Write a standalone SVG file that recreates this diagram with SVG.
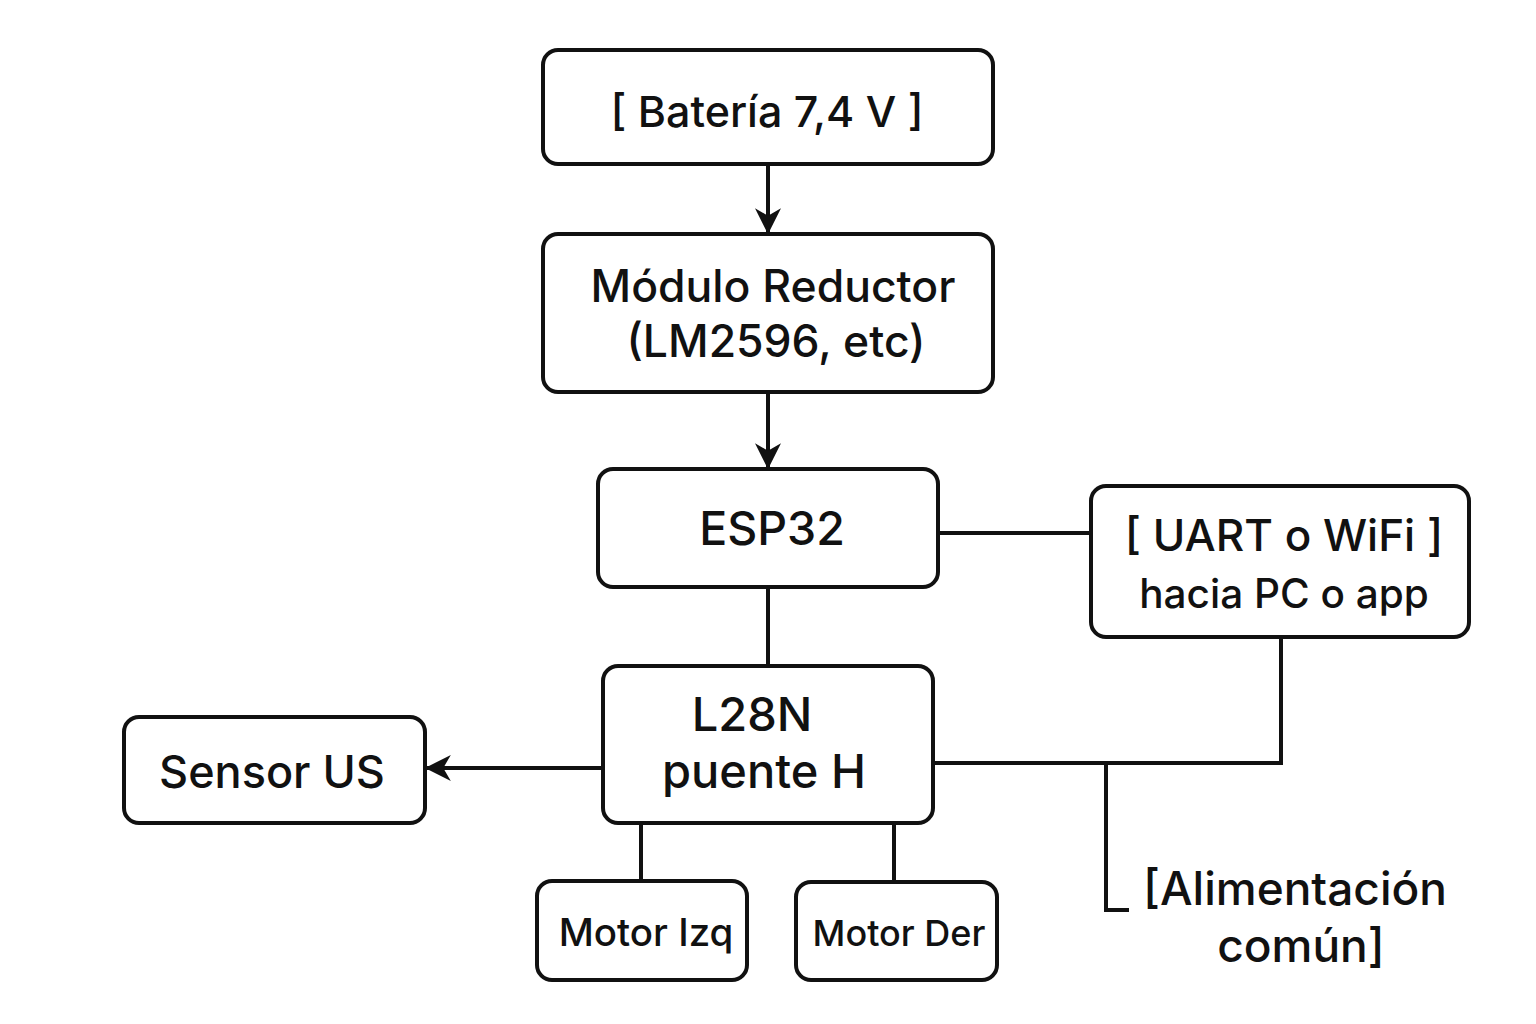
<svg xmlns="http://www.w3.org/2000/svg" width="1536" height="1024" viewBox="0 0 1536 1024">
<style>
.box{fill:#fff;stroke:#111;stroke-width:4}
.t{font-family:Inter,"Liberation Sans",sans-serif;fill:#111;text-anchor:middle;font-weight:500}
.ln{stroke:#111;stroke-width:4;fill:none}
</style>
<defs>
<marker id="arr" viewBox="0 0 24 24" refX="22" refY="12" markerWidth="26" markerHeight="26" markerUnits="userSpaceOnUse" orient="auto">
<path d="M0,0 L24,12 L0,24 L7,12 Z" fill="#111"/>
</marker>
</defs>
<rect width="1536" height="1024" fill="#fff"/>
<g id="connectors">
<line class="ln" x1="768" y1="164" x2="768" y2="232" marker-end="url(#arr)"/>
<line class="ln" x1="768" y1="392" x2="768" y2="467" marker-end="url(#arr)"/>
<line class="ln" x1="938" y1="533" x2="1091" y2="533"/>
<line class="ln" x1="768" y1="587" x2="768" y2="666"/>
<line class="ln" x1="603" y1="768" x2="427" y2="768" marker-end="url(#arr)"/>
<polyline class="ln" points="933,763 1281,763 1281,637"/>
<polyline class="ln" points="1106,763 1106,910 1129,910"/>
<line class="ln" x1="641" y1="823" x2="641" y2="881"/>
<line class="ln" x1="894" y1="823" x2="894" y2="882"/>
</g>
<g id="bateria">
<rect class="box" x="543" y="50" width="450" height="114" rx="15"/>
<text class="t" x="767" y="127" font-size="43">[ Batería 7,4 V ]</text>
</g>
<g id="reductor">
<rect class="box" x="543" y="234" width="450" height="158" rx="15"/>
<text class="t" x="773" y="302" font-size="44.5">Módulo Reductor</text>
<text class="t" x="776" y="357" font-size="44.5">(LM2596, etc)</text>
</g>
<g id="esp32">
<rect class="box" x="598" y="469" width="340" height="118" rx="15"/>
<text class="t" x="772" y="545" font-size="46.5">ESP32</text>
</g>
<g id="uart">
<rect class="box" x="1091" y="486" width="378" height="151" rx="15"/>
<text class="t" x="1284" y="551" font-size="44">[ UART o WiFi ]</text>
<text class="t" x="1284" y="608" font-size="40.5">hacia PC o app</text>
</g>
<g id="l28n">
<rect class="box" x="603" y="666" width="330" height="157" rx="15"/>
<text class="t" x="752" y="731" font-size="47">L28N</text>
<text class="t" x="764" y="788" font-size="47">puente H</text>
</g>
<g id="sensor">
<rect class="box" x="124" y="717" width="301" height="106" rx="15"/>
<text class="t" x="272" y="788" font-size="45">Sensor US</text>
</g>
<g id="motorizq">
<rect class="box" x="537" y="881" width="210" height="99" rx="15"/>
<text class="t" x="646" y="946" font-size="38.5">Motor Izq</text>
</g>
<g id="motorder">
<rect class="box" x="796" y="882" width="201" height="98" rx="15"/>
<text class="t" x="899" y="946" font-size="36">Motor Der</text>
</g>
<g id="alimentacion">
<text class="t" x="1295" y="905" font-size="46">[Alimentación</text>
<text class="t" x="1301" y="962" font-size="46">común]</text>
</g>
</svg>
